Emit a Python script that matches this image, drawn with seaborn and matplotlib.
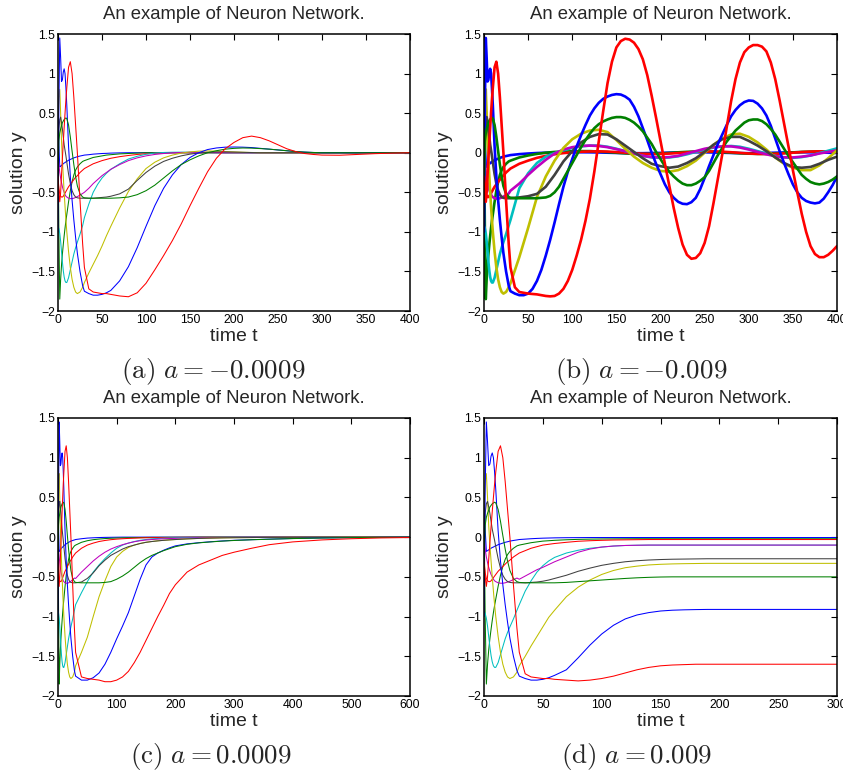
import numpy as np
import pandas as pd
import matplotlib
matplotlib.use("Agg")
import matplotlib.pyplot as plt
import seaborn as sns

# ten neuron outputs, MATLAB colour cycle b g r c m y k b g r
names = ["b2", "g1", "r2", "c", "m", "y", "k", "b1", "g2", "r1"]
colours = {"b2": "#0000ff", "g1": "#008000", "r2": "#ff0000", "c": "#00bfbf",
           "m": "#bf00bf", "y": "#bfbf00", "k": "#404040",
           "b1": "#0000ff", "g2": "#008000", "r1": "#ff0000"}

# start of the run, the same in all four pictures
t_early = [0, 1, 2, 3, 4, 5, 6, 7, 8, 9, 10, 12, 14, 16, 18, 20, 22, 25, 28]
early = {
    "b1": [-1.0, 0.6, 1.45, 1.2, 0.9, 0.92, 1.02, 1.06, 1.0, 0.82, 0.6, 0.08, -0.3, -0.6, -0.85, -1.07, -1.27, -1.5, -1.68],
    "b2": [0.55, 0.1, -0.18, -0.17, -0.16, -0.15, -0.14, -0.13, -0.125, -0.115, -0.11, -0.095, -0.085, -0.075, -0.065, -0.058, -0.05, -0.042, -0.035],
    "g1": [0.3, -1.0, -1.85, -1.6, -1.42, -1.28, -1.16, -1.05, -0.95, -0.86, -0.78, -0.62, -0.48, -0.37, -0.28, -0.22, -0.18, -0.14, -0.11],
    "g2": [-0.3, 0.15, 0.25, 0.3, 0.34, 0.38, 0.4, 0.42, 0.43, 0.44, 0.43, 0.35, 0.2, 0.02, -0.15, -0.3, -0.42, -0.52, -0.56],
    "r1": [-0.3, -0.5, -0.62, -0.5, -0.28, -0.07, 0.13, 0.32, 0.5, 0.67, 0.82, 1.08, 1.15, 1.0, 0.7, 0.35, 0.0, -0.6, -1.15],
    "r2": [-0.3, -0.45, -0.52, -0.55, -0.56, -0.56, -0.55, -0.53, -0.51, -0.49, -0.47, -0.43, -0.4, -0.37, -0.34, -0.31, -0.29, -0.25, -0.22],
    "c": [-0.93, -0.96, -1.02, -1.12, -1.25, -1.38, -1.49, -1.57, -1.62, -1.64, -1.64, -1.58, -1.48, -1.38, -1.28, -1.2, -1.13, -1.03, -0.92],
    "m": [0.0, -0.15, -0.25, -0.32, -0.38, -0.43, -0.47, -0.5, -0.53, -0.55, -0.56, -0.575, -0.58, -0.58, -0.575, -0.565, -0.555, -0.535, -0.515],
    "y": [0.3, 0.7, 0.8, 0.5, 0.15, -0.1, -0.3, -0.5, -0.68, -0.85, -1.0, -1.25, -1.45, -1.6, -1.7, -1.76, -1.78, -1.76, -1.7],
    "k": [0.0, 0.3, 0.42, 0.45, 0.38, 0.3, 0.2, 0.1, 0.03, -0.04, -0.12, -0.27, -0.39, -0.48, -0.53, -0.56, -0.57, -0.575, -0.575],
}

# (a) a = -0.0009
t_a = [30, 35, 40, 45, 50, 55, 60, 70, 80, 90, 100, 110, 120, 130, 140, 150, 160, 170, 180, 190,
       200, 210, 220, 230, 240, 250, 260, 270, 280, 290, 300, 320, 340, 360, 380, 400]
tail_a = {
    "b2": [-0.03, -0.025, -0.018, -0.014, -0.01, -0.008, -0.005, -0.002, 0, 0, 0, 0, 0, 0, 0, 0, 0, 0,
           0, 0, 0, 0, 0, 0, 0, 0, 0, 0, 0, 0, 0, 0, 0, 0, 0, 0],
    "g1": [-0.1, -0.08, -0.06, -0.05, -0.04, -0.03, -0.025, -0.015, -0.01, -0.005, 0, 0, 0, 0, 0, 0, 0, 0,
           0, 0, 0, 0, 0, 0, 0, 0, 0, 0, 0, 0, 0, 0, 0, 0, 0, 0],
    "r2": [-0.2, -0.17, -0.14, -0.12, -0.1, -0.085, -0.07, -0.05, -0.035, -0.022, -0.013, -0.007, -0.003, 0, 0, 0, 0, 0,
           0, 0, 0, 0, 0, 0, 0, 0, 0, 0, 0, 0, 0, 0, 0, 0, 0, 0],
    "c": [-0.82, -0.65, -0.5, -0.4, -0.32, -0.26, -0.21, -0.14, -0.08, -0.045, -0.02, -0.005, 0.003, 0.006, 0.007, 0.006, 0.004, 0.002,
          0, 0, 0, 0, 0, 0, 0, 0, 0, 0, 0, 0, 0, 0, 0, 0, 0, 0],
    "m": [-0.5, -0.45, -0.39, -0.34, -0.29, -0.25, -0.21, -0.15, -0.1, -0.065, -0.04, -0.022, -0.01, -0.002, 0.003, 0.005, 0.005, 0.004,
          0.002, 0, 0, 0, 0, 0, 0, 0, 0, 0, 0, 0, 0, 0, 0, 0, 0, 0],
    "y": [-1.64, -1.52, -1.41, -1.3, -1.18, -1.05, -0.93, -0.7, -0.49, -0.33, -0.2, -0.12, -0.065, -0.03, -0.005, 0.01, 0.02, 0.022,
          0.02, 0.015, 0.01, 0.006, 0.003, 0, 0, 0, 0, 0, 0, 0, 0, 0, 0, 0, 0, 0],
    "k": [-0.575, -0.575, -0.575, -0.57, -0.565, -0.56, -0.55, -0.52, -0.46, -0.35, -0.25, -0.17, -0.11, -0.07, -0.04, -0.018, -0.004, 0.005,
          0.01, 0.01, 0.008, 0.005, 0.002, 0, 0, 0, 0, 0, 0, 0, 0, 0, 0, 0, 0, 0],
    "b1": [-1.75, -1.78, -1.8, -1.8, -1.79, -1.77, -1.74, -1.62, -1.44, -1.2, -0.93, -0.67, -0.45, -0.28, -0.15, -0.06, 0.0, 0.04,
           0.06, 0.07, 0.072, 0.07, 0.065, 0.055, 0.045, 0.035, 0.025, 0.015, 0.008, 0.003, 0, 0, 0, 0, 0, 0],
    "g2": [-0.57, -0.575, -0.575, -0.575, -0.575, -0.575, -0.575, -0.57, -0.56, -0.53, -0.48, -0.41, -0.32, -0.23, -0.15, -0.09, -0.04, 0.0,
           0.025, 0.045, 0.055, 0.06, 0.058, 0.052, 0.045, 0.035, 0.025, 0.015, 0.008, 0.003, 0, 0, 0, 0, 0, 0],
    "r1": [-1.45, -1.72, -1.76, -1.77, -1.78, -1.78, -1.79, -1.81, -1.82, -1.77, -1.65, -1.48, -1.3, -1.11, -0.9, -0.67, -0.45, -0.24,
           -0.07, 0.05, 0.13, 0.19, 0.21, 0.19, 0.15, 0.1, 0.05, 0.015, -0.01, -0.022, -0.03, -0.032, -0.022, -0.012, -0.005, 0],
}

# (b) a = -0.009
t_b = [30, 40, 50, 60, 70, 80, 90, 100, 110, 120, 130, 140, 150, 160, 170, 180, 190, 200, 210,
       220, 230, 240, 250, 260, 270, 280, 290, 300, 310, 320, 330, 340, 350, 360, 370, 380, 390, 400]
tail_b = {
    "b2": [-0.03, -0.018, -0.01, -0.004, 0.0, 0.003, 0.005, 0.006, 0.006, 0.005, 0.003, 0.0, -0.003, -0.005, -0.006, -0.006, -0.004, -0.002, 0.001,
           0.004, 0.005, 0.006, 0.005, 0.003, 0.0, -0.003, -0.005, -0.006, -0.005, -0.003, 0.0, 0.003, 0.005, 0.006, 0.005, 0.003, 0.0, -0.003],
    "g1": [-0.1, -0.06, -0.035, -0.015, 0.0, 0.01, 0.015, 0.018, 0.02, 0.02, 0.015, 0.008, 0.0, -0.008, -0.013, -0.016, -0.015, -0.01, -0.003,
           0.005, 0.011, 0.015, 0.016, 0.013, 0.007, 0.0, -0.007, -0.012, -0.015, -0.014, -0.01, -0.003, 0.004, 0.01, 0.014, 0.016, 0.015, 0.011],
    "r2": [-0.2, -0.14, -0.1, -0.065, -0.04, -0.02, -0.005, 0.005, 0.012, 0.016, 0.017, 0.014, 0.008, 0.0, -0.008, -0.014, -0.017, -0.016, -0.011,
           -0.004, 0.004, 0.011, 0.015, 0.016, 0.013, 0.006, -0.002, -0.01, -0.015, -0.017, -0.014, -0.008, 0.0, 0.008, 0.014, 0.017, 0.015, 0.009],
    "c": [-0.85, -0.45, -0.26, -0.13, -0.05, -0.005, 0.03, 0.06, 0.08, 0.09, 0.09, 0.075, 0.05, 0.02, -0.01, -0.04, -0.06, -0.065, -0.06,
          -0.045, -0.02, 0.01, 0.04, 0.065, 0.08, 0.085, 0.075, 0.05, 0.02, -0.01, -0.04, -0.06, -0.065, -0.055, -0.035, -0.005, 0.025, 0.055],
    "m": [-0.48, -0.39, -0.28, -0.18, -0.09, -0.01, 0.04, 0.07, 0.085, 0.09, 0.085, 0.07, 0.045, 0.02, -0.01, -0.04, -0.055, -0.06, -0.055,
          -0.04, -0.01, 0.02, 0.05, 0.07, 0.08, 0.08, 0.065, 0.04, 0.01, -0.02, -0.045, -0.058, -0.06, -0.05, -0.035, -0.01, 0.01, 0.03],
    "y": [-1.65, -1.32, -0.95, -0.56, -0.3, -0.1, 0.06, 0.17, 0.24, 0.28, 0.29, 0.26, 0.16, 0.05, -0.05, -0.13, -0.19, -0.23, -0.24,
          -0.22, -0.17, -0.1, 0.0, 0.1, 0.18, 0.23, 0.24, 0.2, 0.13, 0.04, -0.06, -0.14, -0.19, -0.22, -0.22, -0.16, -0.07, 0.03],
    "k": [-0.575, -0.565, -0.55, -0.52, -0.43, -0.28, -0.11, 0.02, 0.13, 0.2, 0.235, 0.23, 0.17, 0.09, 0.01, -0.07, -0.14, -0.17, -0.19,
          -0.175, -0.13, -0.07, 0.01, 0.1, 0.17, 0.2, 0.2, 0.15, 0.09, 0.02, -0.06, -0.13, -0.18, -0.19, -0.18, -0.14, -0.09, -0.05],
}
# the three large swings of (b) are read every 5 time units
t_b_fine = [30, 35, 40, 45, 50, 55, 60, 65, 70, 75, 80, 85, 90, 95, 100, 105, 110, 115, 120, 125,
            130, 135, 140, 145, 150, 155, 160, 165, 170, 175, 180, 185, 190, 195, 200, 205, 210, 215,
            220, 225, 230, 235, 240, 245, 250, 255, 260, 265, 270, 275, 280, 285, 290, 295, 300, 305,
            310, 315, 320, 325, 330, 335, 340, 345, 350, 355, 360, 365, 370, 375, 380, 385, 390, 395, 400]
fine_b = {
    "b1": [-1.75, -1.78, -1.8, -1.8, -1.78, -1.72, -1.62, -1.48, -1.3, -1.1, -0.88, -0.65, -0.43, -0.24, -0.08, 0.08, 0.22, 0.35, 0.47, 0.56,
           0.63, 0.68, 0.71, 0.73, 0.74, 0.735, 0.71, 0.67, 0.58, 0.46, 0.31, 0.16, 0.0, -0.14, -0.27, -0.4, -0.5, -0.57,
           -0.62, -0.645, -0.65, -0.625, -0.57, -0.46, -0.32, -0.17, -0.03, 0.11, 0.23, 0.35, 0.46, 0.54, 0.6, 0.64, 0.66, 0.655,
           0.62, 0.56, 0.47, 0.34, 0.18, 0.02, -0.13, -0.27, -0.4, -0.5, -0.57, -0.61, -0.63, -0.64, -0.63, -0.58, -0.5, -0.41, -0.3],
    "g2": [-0.57, -0.575, -0.575, -0.575, -0.575, -0.575, -0.575, -0.57, -0.565, -0.545, -0.5, -0.43, -0.33, -0.23, -0.13, -0.03, 0.07, 0.16, 0.24, 0.31,
           0.36, 0.395, 0.42, 0.44, 0.45, 0.45, 0.44, 0.415, 0.38, 0.33, 0.27, 0.19, 0.11, 0.01, -0.08, -0.17, -0.24, -0.3,
           -0.35, -0.39, -0.41, -0.41, -0.39, -0.355, -0.31, -0.23, -0.13, -0.03, 0.06, 0.14, 0.21, 0.28, 0.33, 0.38, 0.41, 0.42,
           0.42, 0.4, 0.36, 0.3, 0.23, 0.14, 0.05, -0.04, -0.12, -0.2, -0.28, -0.33, -0.37, -0.39, -0.4, -0.39, -0.37, -0.34, -0.3],
    "r1": [-1.45, -1.7, -1.76, -1.77, -1.78, -1.785, -1.79, -1.8, -1.81, -1.815, -1.81, -1.78, -1.72, -1.62, -1.48, -1.3, -1.1, -0.86, -0.58, -0.24,
           0.14, 0.52, 0.88, 1.15, 1.33, 1.41, 1.44, 1.43, 1.39, 1.31, 1.18, 0.98, 0.72, 0.44, 0.15, -0.14, -0.42, -0.7,
           -0.95, -1.16, -1.29, -1.34, -1.33, -1.27, -1.14, -0.93, -0.64, -0.33, -0.02, 0.32, 0.65, 0.93, 1.14, 1.27, 1.33, 1.36,
           1.36, 1.34, 1.28, 1.14, 0.93, 0.66, 0.37, 0.08, -0.22, -0.5, -0.77, -1.0, -1.18, -1.28, -1.32, -1.32, -1.29, -1.24, -1.18],
}

# (c) a = 0.0009
t_c = [30, 40, 50, 60, 70, 80, 90, 100, 110, 120, 130, 140, 150, 160, 170, 180, 190, 200,
       220, 240, 260, 280, 300, 330, 360, 400, 450, 500, 550, 600]
tail_c = {
    "b2": [-0.03, -0.02, -0.012, -0.008, -0.005, -0.003, -0.002, -0.001, 0, 0, 0, 0, 0, 0, 0,
           0, 0, 0, 0, 0, 0, 0, 0, 0, 0, 0, 0, 0, 0, 0],
    "g1": [-0.1, -0.065, -0.045, -0.032, -0.024, -0.018, -0.014, -0.011, -0.009, -0.007, -0.006, -0.005, -0.004, -0.003, -0.003,
           -0.002, -0.002, -0.002, -0.001, 0, 0, 0, 0, 0, 0, 0, 0, 0, 0, 0],
    "r2": [-0.2, -0.14, -0.1, -0.075, -0.055, -0.042, -0.032, -0.025, -0.02, -0.016, -0.013, -0.01, -0.008, -0.007, -0.006,
           -0.005, -0.004, -0.003, -0.002, -0.001, 0, 0, 0, 0, 0, 0, 0, 0, 0, 0],
    "c": [-0.85, -0.7, -0.56, -0.44, -0.35, -0.27, -0.2, -0.14, -0.1, -0.075, -0.055, -0.04, -0.03, -0.022, -0.017,
          -0.013, -0.01, -0.008, -0.005, -0.003, -0.002, -0.001, 0, 0, 0, 0, 0, 0, 0, 0],
    "m": [-0.52, -0.44, -0.37, -0.3, -0.24, -0.19, -0.15, -0.12, -0.095, -0.075, -0.058, -0.045, -0.036, -0.03, -0.025,
          -0.021, -0.018, -0.015, -0.011, -0.008, -0.006, -0.004, -0.003, -0.002, -0.001, 0, 0, 0, 0, 0],
    "y": [-1.62, -1.45, -1.26, -1.0, -0.75, -0.55, -0.37, -0.25, -0.18, -0.13, -0.1, -0.08, -0.065, -0.055, -0.046,
          -0.04, -0.035, -0.03, -0.022, -0.016, -0.012, -0.009, -0.007, -0.005, -0.003, -0.002, -0.001, 0, 0, 0],
    "k": [-0.575, -0.565, -0.52, -0.45, -0.36, -0.29, -0.23, -0.19, -0.15, -0.12, -0.1, -0.08, -0.065, -0.055, -0.047,
          -0.04, -0.034, -0.03, -0.022, -0.016, -0.012, -0.009, -0.007, -0.005, -0.003, -0.002, -0.001, 0, 0, 0],
    "b1": [-1.75, -1.8, -1.8, -1.77, -1.71, -1.6, -1.45, -1.28, -1.12, -0.95, -0.74, -0.53, -0.35, -0.25, -0.2,
           -0.165, -0.135, -0.11, -0.085, -0.07, -0.058, -0.048, -0.04, -0.032, -0.025, -0.017, -0.01, -0.006, -0.003, -0.001],
    "g2": [-0.57, -0.575, -0.575, -0.575, -0.575, -0.57, -0.56, -0.53, -0.49, -0.44, -0.38, -0.32, -0.27, -0.23, -0.2,
           -0.17, -0.145, -0.12, -0.09, -0.072, -0.06, -0.05, -0.042, -0.033, -0.026, -0.018, -0.011, -0.006, -0.003, -0.001],
    "r1": [-1.45, -1.76, -1.78, -1.79, -1.8, -1.82, -1.82, -1.8, -1.76, -1.69, -1.58, -1.45, -1.3, -1.15, -1.0,
           -0.86, -0.71, -0.6, -0.44, -0.35, -0.29, -0.23, -0.19, -0.14, -0.095, -0.06, -0.035, -0.02, -0.01, -0.005],
}

# (d) a = 0.009
t_d = [30, 35, 40, 45, 50, 55, 60, 70, 80, 90, 100, 110, 120, 130, 140, 150, 160, 170, 180, 190,
       200, 220, 240, 260, 280, 300]
tail_d = {
    "b2": [-0.03, -0.025, -0.02, -0.016, -0.013, -0.011, -0.009, -0.007, -0.006, -0.005, -0.005, -0.005, -0.005,
           -0.005, -0.005, -0.005, -0.005, -0.005, -0.005, -0.005, -0.005, -0.005, -0.005, -0.005, -0.005, -0.005],
    "g1": [-0.1, -0.085, -0.07, -0.06, -0.05, -0.045, -0.04, -0.033, -0.028, -0.025, -0.023, -0.022, -0.021,
           -0.02, -0.02, -0.02, -0.02, -0.02, -0.02, -0.02, -0.02, -0.02, -0.02, -0.02, -0.02, -0.02],
    "r2": [-0.2, -0.17, -0.14, -0.12, -0.1, -0.09, -0.08, -0.065, -0.052, -0.045, -0.04, -0.036, -0.034,
           -0.032, -0.03, -0.03, -0.03, -0.03, -0.03, -0.03, -0.03, -0.03, -0.03, -0.03, -0.03, -0.03],
    "c": [-0.85, -0.68, -0.55, -0.44, -0.36, -0.3, -0.255, -0.2, -0.165, -0.14, -0.125, -0.112, -0.105,
          -0.102, -0.1, -0.1, -0.1, -0.1, -0.1, -0.1, -0.1, -0.1, -0.1, -0.1, -0.1, -0.1],
    "m": [-0.53, -0.49, -0.45, -0.41, -0.38, -0.345, -0.31, -0.25, -0.19, -0.15, -0.125, -0.112, -0.105,
          -0.102, -0.1, -0.1, -0.1, -0.1, -0.1, -0.1, -0.1, -0.1, -0.1, -0.1, -0.1, -0.1],
    "y": [-1.62, -1.5, -1.37, -1.25, -1.13, -1.01, -0.92, -0.75, -0.63, -0.54, -0.47, -0.42, -0.385,
          -0.365, -0.35, -0.342, -0.337, -0.334, -0.332, -0.33, -0.33, -0.33, -0.33, -0.33, -0.33, -0.33],
    "k": [-0.575, -0.575, -0.57, -0.565, -0.555, -0.54, -0.52, -0.48, -0.43, -0.39, -0.355, -0.33, -0.31,
          -0.297, -0.288, -0.282, -0.278, -0.276, -0.274, -0.272, -0.272, -0.272, -0.272, -0.272, -0.272, -0.272],
    "b1": [-1.75, -1.78, -1.8, -1.8, -1.79, -1.77, -1.74, -1.67, -1.52, -1.36, -1.22, -1.11, -1.03,
           -0.98, -0.95, -0.93, -0.92, -0.915, -0.912, -0.91, -0.91, -0.91, -0.91, -0.91, -0.91, -0.91],
    "g2": [-0.57, -0.575, -0.575, -0.575, -0.575, -0.575, -0.575, -0.57, -0.56, -0.55, -0.54, -0.53, -0.52,
           -0.512, -0.506, -0.502, -0.5, -0.5, -0.5, -0.5, -0.5, -0.5, -0.5, -0.5, -0.5, -0.5],
    "r1": [-1.45, -1.72, -1.76, -1.77, -1.78, -1.78, -1.79, -1.8, -1.81, -1.8, -1.78, -1.75, -1.71,
           -1.67, -1.64, -1.62, -1.61, -1.605, -1.6, -1.6, -1.6, -1.6, -1.6, -1.6, -1.6, -1.6],
}

y_ticks = [-2, -1.5, -1, -0.5, 0, 0.5, 1, 1.5]


def make_frame(t_tail, tail, t_fine=None, fine=None):
    fine = fine or {}
    parts = []
    for n in names:
        if n in fine:
            tt, yy = t_fine, fine[n]
        else:
            tt, yy = t_tail, tail[n]
        parts.append(pd.DataFrame({"t": t_early + tt, "y": early[n] + yy, "curve": n}))
    return pd.concat(parts, ignore_index=True)


sns.set_theme(style="white")
plt.rcParams["font.family"] = ["Liberation Sans", "DejaVu Sans"]
plt.rcParams["mathtext.fontset"] = "cm"

fig = plt.figure(figsize=(8.43, 7.72), dpi=100)
W, H = 843.0, 772.0

panels = [
    # box in px (left, top, right, bottom), data frame, xmax, xstep, line width, caption and its place
    ((58, 34, 410, 311), make_frame(t_a, tail_a), 400, 50, 0.75, r"$(\mathrm{a})\ a=-0.0009$", 213, 372),
    ((484, 34, 837, 311), make_frame(t_b, tail_b, t_b_fine, fine_b), 400, 50, 1.9, r"$(\mathrm{b})\ a=-0.009$", 641, 372),
    ((58, 418, 410, 696), make_frame(t_c, tail_c), 600, 100, 0.75, r"$(\mathrm{c})\ a=0.0009$", 211, 757),
    ((484, 418, 837, 696), make_frame(t_d, tail_d), 300, 50, 0.75, r"$(\mathrm{d})\ a=0.009$", 637, 757),
]

for (l, t, r, b), df, xmax, xstep, lw, cap, cx, cy in panels:
    ax = fig.add_axes([l / W, 1 - b / H, (r - l) / W, (b - t) / H])
    sns.lineplot(data=df, x="t", y="y", hue="curve", hue_order=names, palette=colours,
                 linewidth=lw, legend=False, estimator=None, sort=False, ax=ax)
    ax.set_xlim(0, xmax)
    ax.set_ylim(-2, 1.5)
    ax.set_xticks(np.arange(0, xmax + 1, xstep))
    ax.set_yticks(y_ticks)
    ax.set_yticklabels(["{:g}".format(v).replace("-", "\u2212") for v in y_ticks])
    ax.tick_params(direction="in", top=True, right=True, length=4, width=0.8,
                   labelsize=8.8, pad=2, colors="black")
    for sp in ax.spines.values():
        sp.set_linewidth(1.1)
        sp.set_color("black")
    ax.set_title("An example of Neuron Network.", fontsize=13.3, pad=11)
    ax.set_xlabel("time t", fontsize=14, labelpad=1.5)
    ax.set_ylabel("solution y", fontsize=14, labelpad=3)
    fig.text(cx / W, 1 - cy / H, cap, ha="center", va="center", fontsize=19.5)

fig.savefig("out.png", dpi=100)
